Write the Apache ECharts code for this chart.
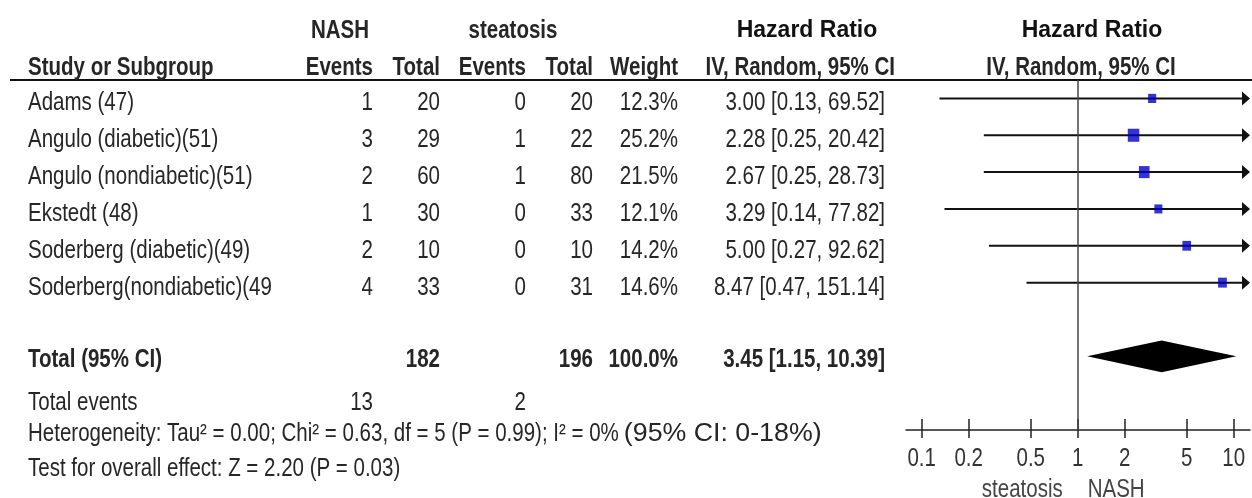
<!DOCTYPE html>
<html>
<head>
<meta charset="utf-8">
<script src="https://cdn.jsdelivr.net/npm/echarts@6/dist/echarts.min.js"></script>
<style>
  html, body { margin: 0; padding: 0; background: #fff; }
  #chart { width: 1252px; height: 498px; }
</style>
</head>
<body>
<div id="chart"></div>
<script>
const studies = ['Adams (47)', 'Angulo (diabetic)(51)', 'Angulo (nondiabetic)(51)', 'Ekstedt (48)', 'Soderberg (diabetic)(49)', 'Soderberg(nondiabetic)(49']
const nashEvents = [1, 3, 2, 1, 2, 4]
const nashTotal = [20, 29, 60, 30, 10, 33]
const steatosisEvents = [0, 1, 1, 0, 0, 0]
const steatosisTotal = [20, 22, 80, 33, 10, 31]
const weights = [12.3, 25.2, 21.5, 12.1, 14.2, 14.6]
const hazardRatio = [3.00, 2.28, 2.67, 3.29, 5.00, 8.47]
const ciLower = [0.13, 0.25, 0.25, 0.14, 0.27, 0.47]
const ciUpper = [69.52, 20.42, 28.73, 77.82, 92.62, 151.14]
const pooled = [3.45, 1.15, 10.39] // hr, lower, upper
const pooledTotals = [182, 196]
const totalEvents = [13, 2]
const axisTicks = [0.1, 0.2, 0.5, 1, 2, 5, 10]
const heterogeneity = 'Heterogeneity: Tau² = 0.00; Chi² = 0.63, df = 5 (P = 0.99); I² = 0%'
const heterogeneityCI = '(95% CI: 0-18%)'
const overallEffect = 'Test for overall effect: Z = 2.20 (P = 0.03)'

// narrow font if installed, otherwise squeeze Liberation Sans
function hasFont(name) {
  const ctx = document.createElement('canvas').getContext('2d')
  const s = 'Heterogeneity 0123456789'
  ctx.font = '24px monospace'
  const a = ctx.measureText(s).width
  ctx.font = '24px "' + name + '", monospace'
  return ctx.measureText(s).width !== a
}
const hasNarrow = hasFont('Liberation Sans Narrow')
const NARROW = hasNarrow ? '"Liberation Sans Narrow"' : '"Liberation Sans", Arial, sans-serif'
const SX = hasNarrow ? 1 : 0.82
const WIDE = '"Liberation Sans", Arial, sans-serif'
const TEXT = '#262626'

const totalRow = 7
const chart = echarts.init(document.getElementById('chart'))

function fmt(v) { return v.toFixed(2) }

chart.setOption({
  animation: false,
  backgroundColor: '#fff',
  grid: { left: 906, top: 80, width: 344, height: 350, outerBoundsMode: 'none' },
  xAxis: [
    {
      type: 'log', min: 0.0793, max: 12.72, position: 'bottom',
      axisLine: { onZero: false, lineStyle: { color: '#222', width: 1.5 } },
      axisTick: { inside: true, length: 11, customValues: axisTicks, lineStyle: { color: '#222', width: 1.5 } },
      axisLabel: { show: false },
      splitLine: { show: false }, minorTick: { show: false }
    },
    {
      type: 'log', min: 0.0793, max: 12.72, position: 'bottom',
      axisLine: { show: false, onZero: false },
      axisTick: { length: 8, customValues: axisTicks, lineStyle: { color: '#222', width: 1.5 } },
      axisLabel: { show: false },
      splitLine: { show: false }
    }
  ],
  yAxis: { type: 'value', inverse: true, min: -0.5, max: 9, show: false },
  series: [
    {
      type: 'custom',
      silent: true,
      encode: { x: [0, 1], y: 2 },
      data: studies.map((s, i) => [ciLower[i], ciUpper[i], i]),
      renderItem(params, api) {
        const start = api.coord([api.value(0), api.value(2)])
        const end = api.coord([api.value(1), api.value(2)])
        const right = params.coordSys.x + params.coordSys.width
        const clipped = end[0] > right
        const ex = clipped ? right : end[0]
        const y = start[1]
        const children = [{
          type: 'line',
          shape: { x1: start[0], y1: y, x2: clipped ? ex - 6 : ex, y2: y },
          style: { stroke: '#111', lineWidth: 2 }
        }]
        if (clipped) {
          children.push({
            type: 'polygon',
            shape: { points: [[ex, y], [ex - 8, y - 7], [ex - 8, y + 7]] },
            style: { fill: '#111' }
          })
        }
        return { type: 'group', children }
      }
    },
    {
      type: 'scatter',
      silent: true,
      symbol: 'rect',
      symbolSize: d => [2.3 * Math.sqrt(d[2]), 2.6 * Math.sqrt(d[2])],
      itemStyle: { color: '#0000c8' },
      z: 5,
      data: hazardRatio.map((v, i) => [v, i, weights[i]]),
      markLine: {
        silent: true, symbol: 'none', label: { show: false },
        lineStyle: { color: '#444', width: 1.5, type: 'solid' },
        data: [{ xAxis: 1 }]
      }
    },
    {
      type: 'custom',
      silent: true,
      encode: { x: [0, 1, 2], y: 3 },
      data: [[pooled[0], pooled[1], pooled[2], totalRow]],
      renderItem(params, api) {
        const row = api.value(3)
        const l = api.coord([api.value(1), row])
        const r = api.coord([api.value(2), row])
        const top = api.coord([api.value(0), row - 0.43])
        const bot = api.coord([api.value(0), row + 0.43])
        return {
          type: 'polygon',
          shape: { points: [l, top, r, bot] },
          style: { fill: '#000' }
        }
      }
    },
    {
      // tick labels, placed by the log axis
      type: 'custom',
      silent: true,
      encode: { x: 0 },
      data: axisTicks.map(v => [v]),
      renderItem(params, api) {
        const x = api.coord([api.value(0), 0])[0]
        const cs = params.coordSys
        return {
          type: 'text', x, y: cs.y + cs.height + 29, scaleX: SX,
          style: {
            text: String(api.value(0)), fill: '#333',
            fontSize: 25, fontFamily: NARROW,
            align: 'center', verticalAlign: 'middle'
          }
        }
      }
    }
  ]
})

// table text, rows placed with the same y scale as the plot
function rowY(i) { return chart.convertToPixel({ yAxisIndex: 0 }, i) + 5 }

function txt(text, x, y, opt) {
  opt = opt || {}
  return {
    type: 'text', x, y, silent: true,
    scaleX: opt.sx != null ? opt.sx : SX,
    style: {
      text: String(text),
      fill: opt.color || TEXT,
      fontSize: opt.size || 25,
      fontFamily: opt.family || NARROW,
      fontWeight: opt.bold ? 'bold' : 'normal',
      align: opt.align || 'left',
      verticalAlign: 'middle'
    }
  }
}

const col = { name: 28, ev1: 373, tot1: 440, ev2: 526, tot2: 593, weight: 678, ci: 885 }
const R = { align: 'right' }
const B = { bold: true }
const BR = { bold: true, align: 'right' }

const g = [
  { type: 'line', silent: true, shape: { x1: 10, y1: 80, x2: 1252, y2: 80 }, style: { stroke: '#111', lineWidth: 2 } },
  txt('NASH', 340, 31, { bold: true, align: 'center' }),
  txt('steatosis', 513, 31, { bold: true, align: 'center' }),
  txt('Hazard Ratio', 807, 31, { bold: true, align: 'center', family: WIDE, sx: 1, size: 23, color: '#111' }),
  txt('Hazard Ratio', 1092, 31, { bold: true, align: 'center', family: WIDE, sx: 1, size: 23, color: '#111' }),
  txt('Study or Subgroup', col.name, 68, B),
  txt('Events', col.ev1, 68, BR),
  txt('Total', col.tot1, 68, BR),
  txt('Events', col.ev2, 68, BR),
  txt('Total', col.tot2, 68, BR),
  txt('Weight', col.weight, 68, BR),
  txt('IV, Random, 95% CI', 895, 68, BR),
  txt('IV, Random, 95% CI', 1081, 68, { bold: true, align: 'center' })
]

studies.forEach((s, i) => {
  const y = rowY(i)
  g.push(
    txt(s, col.name, y),
    txt(nashEvents[i], col.ev1, y, R),
    txt(nashTotal[i], col.tot1, y, R),
    txt(steatosisEvents[i], col.ev2, y, R),
    txt(steatosisTotal[i], col.tot2, y, R),
    txt(weights[i].toFixed(1) + '%', col.weight, y, R),
    txt(fmt(hazardRatio[i]) + ' [' + fmt(ciLower[i]) + ', ' + fmt(ciUpper[i]) + ']', col.ci, y, R)
  )
})

const ty = rowY(totalRow) - 1
g.push(
  txt('Total (95% CI)', col.name, ty, B),
  txt(pooledTotals[0], col.tot1, ty, BR),
  txt(pooledTotals[1], col.tot2, ty, BR),
  txt('100.0%', col.weight, ty, BR),
  txt(fmt(pooled[0]) + ' [' + fmt(pooled[1]) + ', ' + fmt(pooled[2]) + ']', col.ci, ty, BR),
  txt('Total events', col.name, 403),
  txt(totalEvents[0], col.ev1, 403, R),
  txt(totalEvents[1], col.ev2, 403, R)
)

const ctx = document.createElement('canvas').getContext('2d')
ctx.font = '25px ' + NARROW
const hetW = ctx.measureText(heterogeneity).width * SX
g.push(
  txt(heterogeneity, col.name, 434),
  txt(heterogeneityCI, col.name + hetW + 5, 434, { family: WIDE, sx: 1.07, size: 25 }),
  txt(overallEffect, col.name, 469)
)

const nullX = chart.convertToPixel({ xAxisIndex: 0 }, 1)
g.push(
  txt('steatosis', nullX - 15, 490, { align: 'right', color: '#444' }),
  txt('NASH', nullX + 10, 490, { color: '#444' })
)

chart.setOption({ graphic: g })
</script>
</body>
</html>
